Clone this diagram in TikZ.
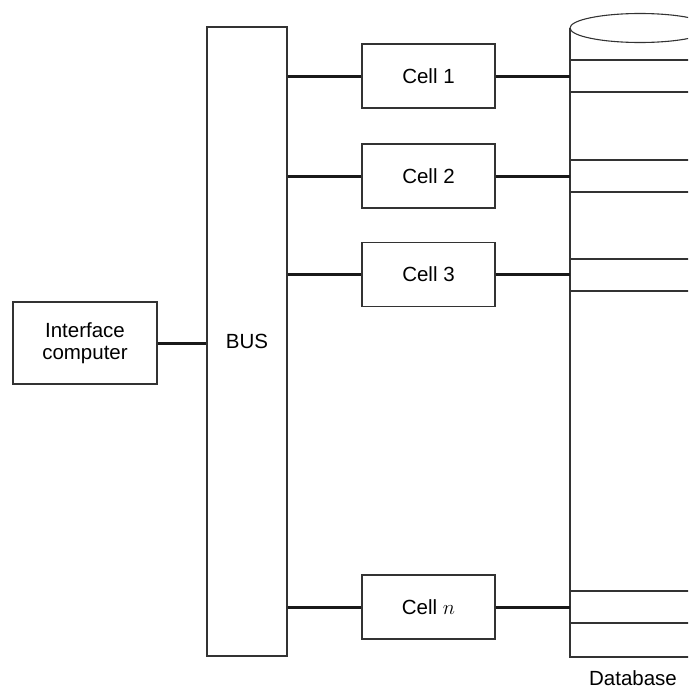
\documentclass[tikz,border=0pt]{standalone}
\usepackage{fontspec}
\setmainfont{Liberation Sans}
\begin{document}
\begin{tikzpicture}[x=1pt,y=-1pt,
  box/.style={draw=black!80, line width=1.1pt, inner sep=0pt, rectangle},
  cellbox/.style={box, minimum width=133pt, minimum height=64pt},
  link/.style={draw=black!90, line width=3pt},
  dbline/.style={draw=black!80, line width=1.1pt},
  font=\fontsize{20.5}{22.5}\selectfont]
\useasboundingbox (0,0) rectangle (688,688);
\begin{scope}
\clip (0,0) rectangle (688,688);

% interface computer and bus
\node[box, minimum width=144pt, minimum height=82pt, align=center] (iface) at (85,343) {Interface\\computer};
\node[box, minimum width=80pt, minimum height=629pt] (bus) at (247,341.5) {BUS};

% processing cells
\node[cellbox] (c1) at (428.5,76) {Cell 1};
\node[cellbox] (c2) at (428.5,176) {Cell 2};
\node[cellbox] (c3) at (428.5,274.5) {Cell 3};
\node[cellbox] (cn) at (428.5,607) {Cell $n$};

% database cylinder (extends beyond the right edge)
\coordinate (dbL) at (570,0);
\draw[dbline] (640,28) ellipse [x radius=70, y radius=14.5];
\draw[dbline] (570,28) -- (570,657) -- (720,657);
\foreach \y in {60,92,160,192,259,291,591,623}
  \draw[dbline] (570,\y) -- (720,\y);
\node[anchor=base, inner sep=0pt, text depth=0pt] (dblabel) at (633,685) {Database};

% connectors
\draw[link] (iface.east) -- (iface.east -| bus.west);
\foreach \c in {c1,c2,c3,cn} {
  \draw[link] (bus.east |- \c.west) -- (\c.west);
  \draw[link] (\c.east) -- (\c.east -| dbL);
}
\end{scope}
\end{tikzpicture}
\end{document}
